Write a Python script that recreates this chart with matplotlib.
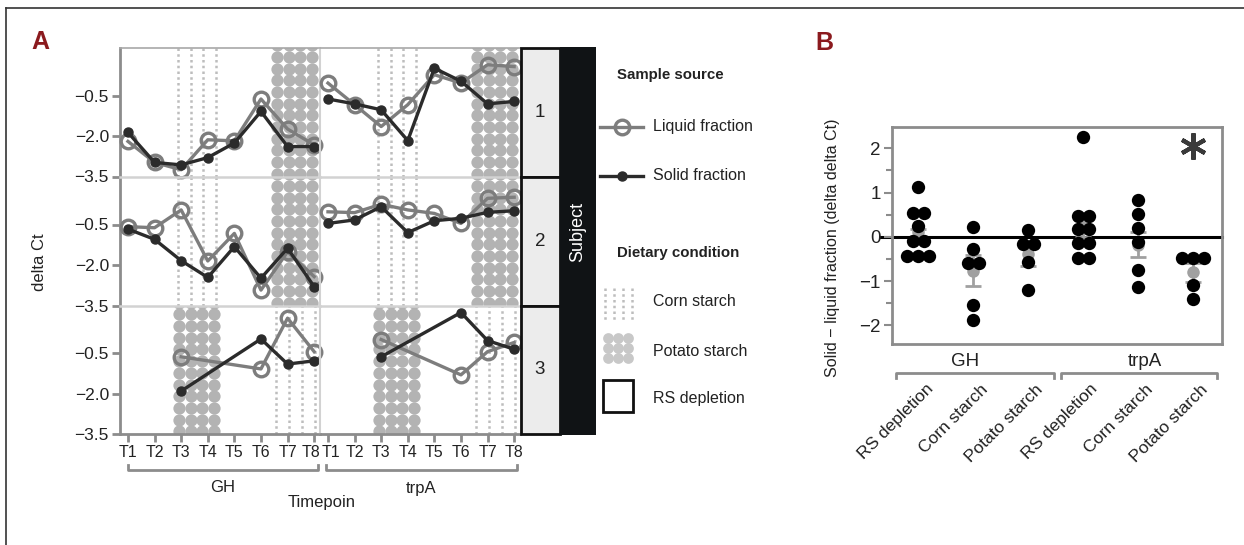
import numpy as np
import matplotlib
matplotlib.use("Agg")
import matplotlib.pyplot as plt
from matplotlib.patches import Rectangle
from matplotlib.ticker import FuncFormatter, MultipleLocator
from matplotlib.transforms import ScaledTranslation

plt.rcParams['font.family'] = ['Liberation Sans', 'DejaVu Sans']

nan = np.nan
timepoints = ['T1', 'T2', 'T3', 'T4', 'T5', 'T6', 'T7', 'T8']
genes = ['GH', 'trpA']
subjects = ['1', '2', '3']

# delta Ct, one row per subject, columns T1..T8
liquid_GH = [
    [-2.20, -2.98, -3.25, -2.14, -2.18, -0.63, -1.74, -2.33],
    [-0.58, -0.62, 0.04, -1.85, -0.83, -2.93, -1.51, -2.43],
    [nan, nan, -0.64, nan, nan, -1.09, 0.79, -0.45],
]
solid_GH = [
    [-1.87, -2.98, -3.07, -2.80, -2.26, -1.09, -2.39, -2.39],
    [-0.67, -1.05, -1.84, -2.46, -1.32, -2.49, -1.38, -2.80],
    [nan, nan, -1.91, nan, nan, 0.02, -0.91, -0.79],
]
liquid_trpA = [
    [-0.04, -0.84, -1.65, -0.84, 0.27, -0.04, 0.64, 0.57],
    [-0.03, -0.06, 0.25, 0.04, -0.09, -0.46, 0.47, 0.51],
    [nan, nan, 0.00, nan, nan, -1.31, -0.45, -0.11],
]
solid_trpA = [
    [-0.63, -0.81, -1.03, -2.17, 0.51, 0.03, -0.81, -0.72],
    [-0.46, -0.33, 0.16, -0.80, -0.36, -0.27, -0.05, 0.01],
    [nan, nan, -0.64, nan, nan, 1.00, -0.04, -0.36],
]
# diet given around T3-T4 and T7-T8, per subject
diet_first = ['Corn starch', 'Corn starch', 'Potato starch']
diet_second = ['Potato starch', 'Potato starch', 'Corn starch']

# panel B: solid - liquid (delta delta Ct)
conditions = ['RS depletion', 'Corn starch', 'Potato starch']
ddct_GH = [
    [1.13, 0.54, 0.54, 0.24, -0.10, -0.10, -0.43, -0.43, -0.43],
    [0.23, -0.28, -0.59, -0.59, -1.54, -1.87],
    [0.15, -0.17, -0.17, -0.57, -1.20],
]
ddct_trpA = [
    [2.26, 0.47, 0.47, 0.17, 0.17, -0.14, -0.14, -0.47, -0.47],
    [0.83, 0.51, 0.20, -0.11, -0.74, -1.14],
    [-0.47, -0.47, -0.47, -1.09, -1.41],
]
mean_GH = [0.10, -0.77, -0.38]
sem_GH = [0.08, 0.35, 0.28]
mean_trpA = [0.26, -0.18, -0.80]
sem_trpA = [0.27, 0.28, 0.21]
significant = [False, False, False, False, False, True]

W, H = 1244, 545
fig = plt.figure(figsize=(W / 100, H / 100), dpi=100)

def px_axes(x0, y0, x1, y1, **kw):
    return fig.add_axes([x0 / W, 1 - y1 / H, (x1 - x0) / W, (y1 - y0) / H], **kw)

GRID = '#8c8c8c'
LIQ = '#7d7d7d'
SOL = '#2b2b2b'
POT = '#b3b3b3'
CORN = '#bdbdbd'
TXT = '#222'
minus = FuncFormatter(lambda v, _: f'{v:.1f}'.replace('-', '\u2212'))

def corn_pattern(ax, lo, hi):
    for xv in np.linspace(lo + 0.18, hi - 0.08, 4):
        ax.axvline(xv, color=CORN, lw=1.8, ls=(0, (1, 1.3)), zorder=1)

def potato_pattern(ax, lo, hi, ymin, ymax):
    xs = np.arange(lo + 0.22, hi, 0.44)
    ys = np.arange(ymin + 0.1, ymax + 0.3, 0.433)
    X, Y = np.meshgrid(xs, ys)
    ax.scatter(X.ravel(), Y.ravel(), s=78, color=POT, lw=0, zorder=1)

spans = [(2.7, 4.38), (6.38, 8.12)]
col_x = [(120, 320), (320, 520)]
row_y = [(48, 176.5), (176.5, 305.5), (305.5, 434)]
liquid = [liquid_GH, liquid_trpA]
solid = [solid_GH, solid_trpA]
x_t = np.arange(1, len(timepoints) + 1)

for r, (y0, y1) in enumerate(row_y):
    for c, (x0, x1) in enumerate(col_x):
        ax = px_axes(x0, y0, x1, y1)
        ax.set_facecolor('none')
        ymin, ymax = -3.5, -3.5 + (y1 - y0) / 27.0
        ax.set_xlim(0.7, 8.22)
        ax.set_ylim(ymin, ymax)
        for diet, (lo, hi) in zip([diet_first[r], diet_second[r]], spans):
            if diet == 'Corn starch':
                corn_pattern(ax, lo, hi)
            else:
                potato_pattern(ax, lo, hi, ymin, ymax)
        for vals, st in [(liquid[c][r], dict(color=LIQ, ms=10.5, mfc='none', mew=2.4, zorder=3)),
                         (solid[c][r], dict(color=SOL, ms=6.5, zorder=4))]:
            v = np.asarray(vals, dtype=float)
            m = ~np.isnan(v)
            ax.plot(x_t[m], v[m], lw=2.4, marker='o', clip_on=False, **st)
        for s in ax.spines.values():
            s.set_visible(False)
        if c == 0:
            ax.spines['left'].set_visible(True)
            ax.spines['left'].set_color(GRID)
            ax.spines['left'].set_linewidth(2)
            ax.set_yticks([-3.5, -2.0, -0.5])
            ax.yaxis.set_major_formatter(minus)
        else:
            ax.spines['left'].set_visible(True)
            ax.spines['left'].set_color('#d2d2d2')
            ax.spines['left'].set_linewidth(1.5)
            ax.set_yticks([])
        ax.spines['top'].set_visible(True)
        ax.spines['top'].set_color('#a8a8a8' if r == 0 else '#d2d2d2')
        ax.spines['top'].set_linewidth(1.2 if r == 0 else 1.8)
        ax.tick_params(axis='y', color=GRID, width=2, length=6, labelsize=12.5,
                       labelcolor=TXT, pad=2)
        if r == 2:
            ax.spines['bottom'].set_visible(True)
            ax.spines['bottom'].set_color(GRID)
            ax.spines['bottom'].set_linewidth(2)
            ax.set_xticks(x_t, timepoints)
            ax.tick_params(axis='x', color=GRID, width=2, length=6, labelsize=11.5,
                           labelcolor=TXT, pad=2)
            # the two facets touch: nudge the outer labels apart a little
            edge = ax.get_xticklabels()[-1 if c == 0 else 0]
            edge.set_transform(edge.get_transform() +
                               ScaledTranslation(-0.03 if c == 0 else 0.03, 0, fig.dpi_scale_trans))
        else:
            ax.set_xticks([])

# panel B
axb = px_axes(892, 127, 1222, 344)
axb.set_xlim(-0.48, 5.53)
axb.set_ylim(-2.42, 2.48)
groups = ddct_GH + ddct_trpA
means = mean_GH + mean_trpA
sems = sem_GH + sem_trpA
labels_b = conditions + conditions
xb = np.arange(len(groups))
axb.axhline(0, xmin=-0.036, xmax=1, color='black', lw=2.2, zorder=1, clip_on=False)
axb.errorbar(xb, means, yerr=sems, fmt='o', color='#a0a0a0', ms=8, capsize=6,
             elinewidth=2, capthick=2, zorder=2)

def swarm(vals, step=0.2):
    vals = np.asarray(vals)
    off = np.zeros(len(vals))
    for v in np.unique(vals):
        idx = np.where(vals == v)[0]
        off[idx] = (np.arange(len(idx)) - (len(idx) - 1) / 2) * step
    return off

for i, g in enumerate(groups):
    axb.scatter(i + swarm(g), g, s=92, color='black', lw=0, zorder=3)
for i, sig in enumerate(significant):
    if sig:
        axb.plot(i, 2.05, marker=(6, 2, 0), ms=19, mew=3, color='#3a3a3a')
for s in axb.spines.values():
    s.set_color(GRID)
    s.set_linewidth(2)
axb.set_yticks([-2, -1, 0, 1, 2])
axb.yaxis.set_minor_locator(MultipleLocator(0.5))
axb.tick_params(axis='y', which='major', color=GRID, width=1.5, length=6, labelsize=13.5,
                labelcolor=TXT, pad=2)
axb.tick_params(axis='y', which='minor', color=GRID, width=1.5, length=4)
axb.set_xticks(xb, labels_b, rotation=45, ha='right', rotation_mode='anchor')
axb.tick_params(axis='x', length=0, pad=27, labelsize=12.5, labelcolor=TXT)
for lab in axb.get_xticklabels():
    lab.set_transform(lab.get_transform() + ScaledTranslation(0.07, 0, fig.dpi_scale_trans))

# overlay for annotations, in pixel coordinates
ov = fig.add_axes([0, 0, 1, 1], zorder=10)
ov.set_xlim(0, W)
ov.set_ylim(H, 0)
ov.axis('off')
ov.patch.set_visible(False)

ov.plot([6, 6], [8, H], color='#333', lw=1.2)
ov.plot([6, W], [8, 8], color='#333', lw=1.2)
ov.text(40, 42, 'A', color='#8b1a1e', fontsize=18, fontweight='bold', ha='center', va='center')
ov.text(824, 43, 'B', color='#8b1a1e', fontsize=18, fontweight='bold', ha='center', va='center')

# strips
for r, (y0, y1) in enumerate(row_y):
    ov.add_patch(Rectangle((521, y0), 39, y1 - y0, fc='#ececec', ec='#111', lw=2))
    ov.text(540, (y0 + y1) / 2, subjects[r], ha='center', va='center', fontsize=13.5, color=TXT)
ov.add_patch(Rectangle((560, 47), 36, 388, fc='#101315', ec='none'))
ov.text(578, 232, 'Subject', rotation=90, ha='center', va='center', fontsize=13, color='white')

ov.text(40, 262, 'delta Ct', rotation=90, ha='center', va='center', fontsize=12, color=TXT)

# gene brackets, panel A
for g, (bx0, bx1) in zip(genes, [(128, 318), (326, 517)]):
    ov.plot([bx0, bx0, bx1, bx1], [465, 470, 470, 465], color=GRID, lw=2)
    ov.text((bx0 + bx1) / 2, 488, g, ha='center', va='center', fontsize=12, color=TXT)
ov.text(322, 503, 'Timepoin', ha='center', va='center', fontsize=12, color=TXT)

# gene brackets, panel B
for g, (bx0, bx1), tx in zip(genes, [(896, 1054), (1061, 1217)], [965, 1145]):
    ov.plot([bx0, bx0, bx1, bx1], [378, 373, 373, 378], color=GRID, lw=2)
    ov.text(tx, 361, g, ha='center', va='center', fontsize=13.5, color=TXT)
ov.text(833, 248, 'Solid \u2212 liquid fraction (delta delta Ct)', rotation=90,
        ha='center', va='center', fontsize=11.5, color=TXT)

# legend
LFS = 11.5
ov.text(617, 75, 'Sample source', fontsize=10.8, fontweight='bold', va='center', color=TXT)
ov.plot([600, 643], [127, 127], color=LIQ, lw=2.4)
ov.plot([621.5], [127], marker='o', ms=10.5, mfc='none', mew=2.4, color=LIQ)
ov.text(653, 127, 'Liquid fraction', fontsize=LFS, va='center', color=TXT)
ov.plot([600, 643], [176, 176], color=SOL, lw=2.4)
ov.plot([621.5], [176], marker='o', ms=6.5, color=SOL)
ov.text(653, 176, 'Solid fraction', fontsize=LFS, va='center', color=TXT)
ov.text(617, 253, 'Dietary condition', fontsize=10.8, fontweight='bold', va='center', color=TXT)
for xv in [605, 614, 623, 632]:
    ov.plot([xv, xv], [288, 320], color=CORN, lw=1.8, ls=(0, (1, 1.3)))
ov.text(653, 302, 'Corn starch', fontsize=LFS, va='center', color=TXT)
xx, yy = np.meshgrid([608, 618, 628], [338, 348, 358])
ov.scatter(xx.ravel(), yy.ravel(), s=60, color='#c8c8c8', lw=0)
ov.text(653, 352, 'Potato starch', fontsize=LFS, va='center', color=TXT)
ov.add_patch(Rectangle((603, 380), 30, 32, fc='none', ec='#111', lw=2))
ov.text(653, 398, 'RS depletion', fontsize=LFS, va='center', color=TXT)

fig.savefig('out.png', dpi=100)
